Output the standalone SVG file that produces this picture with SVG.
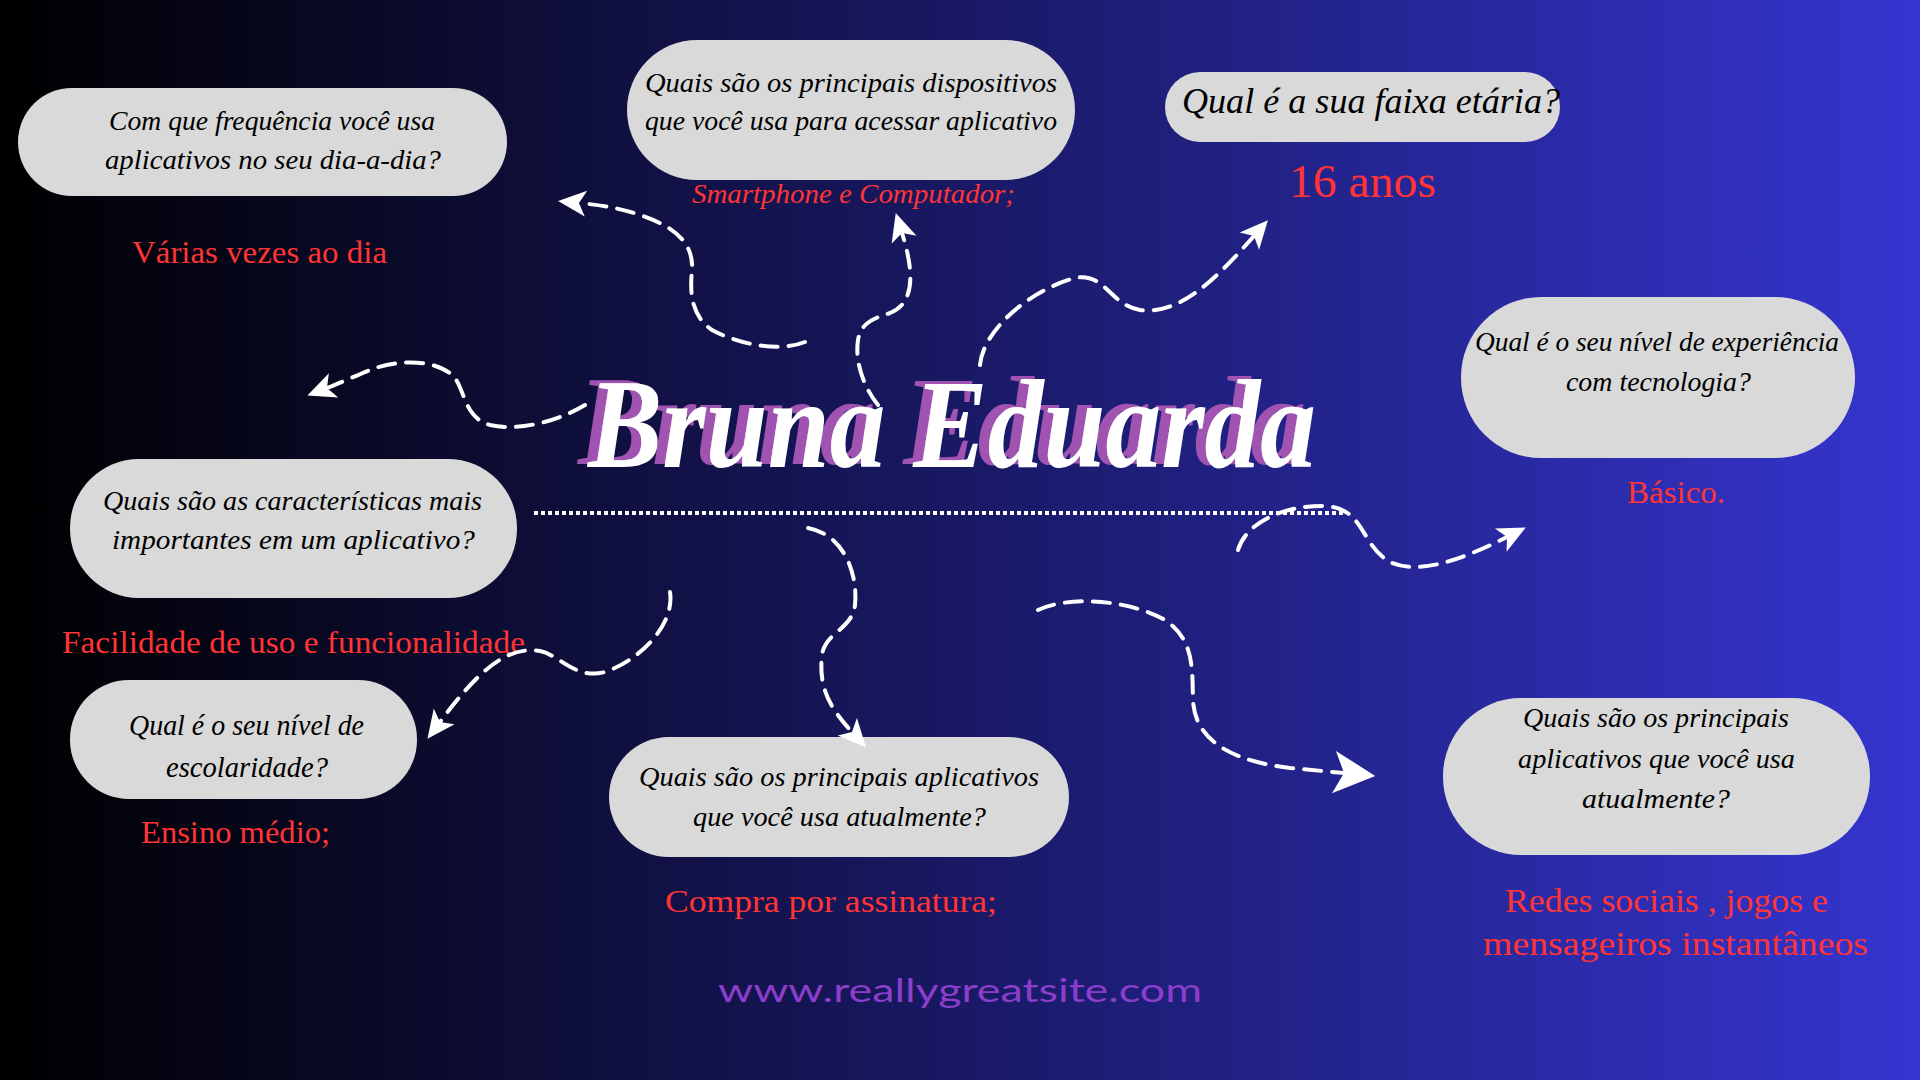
<svg xmlns="http://www.w3.org/2000/svg" width="1920" height="1080" viewBox="0 0 1920 1080">
  <defs>
    <linearGradient id="bg" x1="0" y1="0" x2="1" y2="0">
      <stop offset="0" stop-color="#000000"/>
      <stop offset="0.45" stop-color="#16165a"/>
      <stop offset="1" stop-color="#3535d0"/>
    </linearGradient>
    <filter id="echo" x="-5%" y="-20%" width="110%" height="140%">
      <feFlood flood-color="#a052b0" result="c"/>
      <feComposite in="c" in2="SourceAlpha" operator="in" result="s"/>
      <feOffset in="s" dx="-10" dy="-3" result="o"/>
      <feMerge>
        <feMergeNode in="o"/>
        <feMergeNode in="SourceGraphic"/>
      </feMerge>
    </filter>
    <marker id="arr" markerUnits="userSpaceOnUse" markerWidth="40" markerHeight="40" viewBox="-5 -20 40 40" refX="7" refY="0" orient="auto">
      <path d="M28,0 L0,-13 L7,0 L0,13 Z" fill="#ffffff"/>
    </marker>
    <marker id="arrL" markerUnits="userSpaceOnUse" markerWidth="56" markerHeight="56" viewBox="-5 -25 50 50" refX="9" refY="0" orient="auto">
      <path d="M37,0 L0,-19 L9,0 L0,19 Z" fill="#ffffff"/>
    </marker>
    <style>
      .pill { fill: #d9d9d9; }
      .q { font-family: "Liberation Serif", serif; font-style: italic; fill: #000000; }
      .a { font-family: "Liberation Serif", serif; fill: #ff3434; }
      .conn { fill: none; stroke: #ffffff; stroke-width: 4; stroke-dasharray: 17 11; stroke-linecap: round; }
      .title { font-family: "Liberation Serif", serif; font-style: italic; font-weight: bold; font-size: 126px; }
    </style>
  </defs>

  <rect x="0" y="0" width="1920" height="1080" fill="url(#bg)"/>

  <g id="title">
    <text class="title" x="588" y="467" fill="#ffffff" filter="url(#echo)" textLength="728" lengthAdjust="spacingAndGlyphs">Bruna Eduarda</text>
    <line x1="534" y1="513" x2="1343" y2="513" stroke="#ffffff" stroke-width="4" stroke-dasharray="4 3"/>
  </g>

  <g id="node-frequencia">
    <rect class="pill" x="18" y="88" width="489" height="108" rx="54"/>
    <text class="q" font-size="27" x="109" y="130" textLength="326" lengthAdjust="spacingAndGlyphs">Com que frequência você usa</text>
    <text class="q" font-size="27" x="105" y="169" textLength="336" lengthAdjust="spacingAndGlyphs">aplicativos no seu dia-a-dia?</text>
    <text class="a" font-size="31" x="132" y="263" textLength="255" lengthAdjust="spacingAndGlyphs">Várias vezes ao dia</text>
  </g>

  <g id="node-dispositivos">
    <rect class="pill" x="627" y="40" width="448" height="140" rx="70"/>
    <text class="q" font-size="27" x="645" y="92" textLength="412" lengthAdjust="spacingAndGlyphs">Quais são os principais dispositivos</text>
    <text class="q" font-size="27" x="645" y="130" textLength="412" lengthAdjust="spacingAndGlyphs">que você usa para acessar aplicativo</text>
    <text class="a" font-size="27" font-style="italic" x="692" y="203" textLength="323" lengthAdjust="spacingAndGlyphs">Smartphone  e Computador;</text>
  </g>

  <g id="node-idade">
    <rect class="pill" x="1165" y="72" width="395" height="70" rx="35"/>
    <text class="q" font-size="36" x="1182" y="113" textLength="378" lengthAdjust="spacingAndGlyphs">Qual é a sua faixa etária?</text>
    <text class="a" font-size="46" x="1289" y="197" textLength="147" lengthAdjust="spacingAndGlyphs">16 anos</text>
  </g>

  <g id="node-experiencia">
    <rect class="pill" x="1461" y="297" width="394" height="161" rx="80"/>
    <text class="q" font-size="27" x="1475" y="351" textLength="364" lengthAdjust="spacingAndGlyphs">Qual é o seu nível de experiência</text>
    <text class="q" font-size="27" x="1566" y="391" textLength="185" lengthAdjust="spacingAndGlyphs">com tecnologia?</text>
    <text class="a" font-size="32" x="1627" y="503" textLength="98" lengthAdjust="spacingAndGlyphs">Básico.</text>
  </g>

  <g id="node-caracteristicas">
    <rect class="pill" x="70" y="459" width="447" height="139" rx="69"/>
    <text class="q" font-size="27" x="103" y="510" textLength="379" lengthAdjust="spacingAndGlyphs">Quais são as características mais</text>
    <text class="q" font-size="27" x="112" y="549" textLength="363" lengthAdjust="spacingAndGlyphs">importantes em um aplicativo?</text>
    <text class="a" font-size="32" x="62" y="653" textLength="463" lengthAdjust="spacingAndGlyphs">Facilidade de uso e funcionalidade</text>
  </g>

  <g id="node-escolaridade">
    <rect class="pill" x="70" y="680" width="347" height="119" rx="59"/>
    <text class="q" font-size="30" x="129" y="735" textLength="235" lengthAdjust="spacingAndGlyphs">Qual é o seu nível de</text>
    <text class="q" font-size="30" x="166" y="777" textLength="162" lengthAdjust="spacingAndGlyphs">escolaridade?</text>
    <text class="a" font-size="32" x="141" y="843" textLength="189" lengthAdjust="spacingAndGlyphs">Ensino médio;</text>
  </g>

  <g id="node-aplicativos-atuais">
    <rect class="pill" x="609" y="737" width="460" height="120" rx="60"/>
    <text class="q" font-size="27" x="639" y="786" textLength="400" lengthAdjust="spacingAndGlyphs">Quais são os principais aplicativos</text>
    <text class="q" font-size="27" x="693" y="826" textLength="293" lengthAdjust="spacingAndGlyphs">que você usa atualmente?</text>
    <text class="a" font-size="32" x="665" y="912" textLength="332" lengthAdjust="spacingAndGlyphs">Compra por assinatura;</text>
  </g>

  <g id="node-principais-aplicativos">
    <rect class="pill" x="1443" y="698" width="427" height="157" rx="78"/>
    <text class="q" font-size="27" x="1523" y="727" textLength="266" lengthAdjust="spacingAndGlyphs">Quais são os principais</text>
    <text class="q" font-size="27" x="1518" y="768" textLength="277" lengthAdjust="spacingAndGlyphs">aplicativos que você usa</text>
    <text class="q" font-size="27" x="1582" y="808" textLength="148" lengthAdjust="spacingAndGlyphs">atualmente?</text>
    <text class="a" font-size="33" x="1505" y="912" textLength="323" lengthAdjust="spacingAndGlyphs">Redes sociais , jogos e</text>
    <text class="a" font-size="33" x="1483" y="955" textLength="385" lengthAdjust="spacingAndGlyphs">mensageiros instantâneos</text>
  </g>

  <g id="website">
    <text x="718" y="1002" font-family="Lato, 'Open Sans', sans-serif" font-size="32" fill="#8a3ec9" textLength="484" lengthAdjust="spacingAndGlyphs">www.reallygreatsite.com</text>
  </g>

  <g id="connectors">
    <path class="conn" marker-end="url(#arr)" d="M805,342 C780,352 740,345 712,330 C690,315 690,290 692,270 C694,240 670,225 640,215 C620,208 600,205 579,203"/>
    <path class="conn" marker-end="url(#arr)" d="M878,405 C862,385 855,360 858,340 C861,322 875,318 890,313 C918,302 912,265 902,233"/>
    <path class="conn" marker-end="url(#arr)" d="M980,365 C983,330 1030,290 1075,278 C1105,272 1110,305 1140,310 C1180,315 1215,280 1254,236"/>
    <path class="conn" marker-end="url(#arr)" d="M585,405 C560,420 520,432 490,425 C465,418 465,392 455,378 C440,360 400,358 370,370 C355,376 340,383 327,388"/>
    <path class="conn" marker-end="url(#arr)" d="M670,592 C675,625 640,660 605,672 C575,680 560,655 540,651 C505,645 475,675 440,722"/>
    <path class="conn" marker-end="url(#arr)" d="M808,528 C845,535 858,575 855,605 C852,630 825,632 822,655 C818,690 832,710 852,732"/>
    <path class="conn" marker-end="url(#arrL)" d="M1038,610 C1070,595 1130,600 1165,620 C1195,640 1192,670 1193,700 C1195,745 1240,762 1290,768 L1344,773"/>
    <path class="conn" marker-end="url(#arr)" d="M1238,550 C1245,525 1280,505 1325,506 C1365,508 1360,545 1390,562 C1420,576 1465,558 1507,537"/>
  </g>
</svg>
